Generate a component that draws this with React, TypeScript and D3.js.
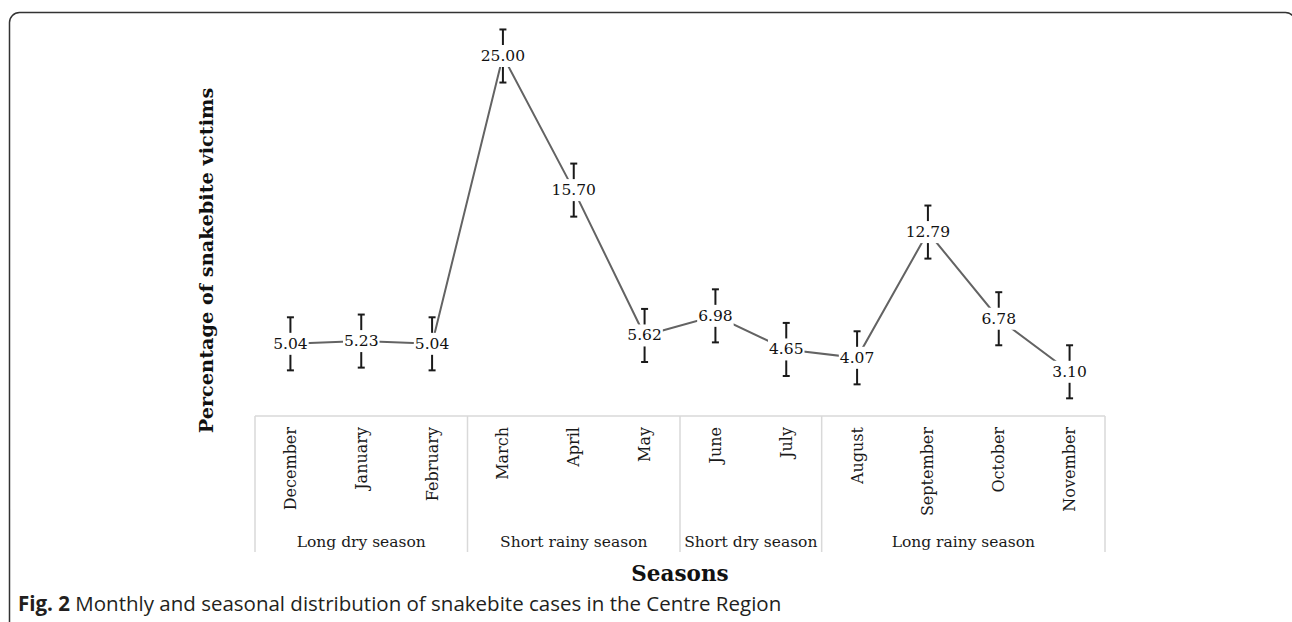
import React from "react";
import * as d3 from "d3";

const months = [
  "December", "January", "February", "March", "April", "May",
  "June", "July", "August", "September", "October", "November",
];
const values = [5.04, 5.23, 5.04, 25.0, 15.7, 5.62, 6.98, 4.65, 4.07, 12.79, 6.78, 3.1];
const errors = [1.84, 1.84, 1.84, 1.84, 1.84, 1.84, 1.84, 1.84, 1.84, 1.84, 1.84, 1.84];
const seasons = ["Long dry season", "Short rainy season", "Short dry season", "Long rainy season"];
const seasonSpans = [3, 3, 2, 4];
const yTitle = "Percentage of snakebite victims";
const xTitle = "Seasons";
const captionBold = "Fig. 2";
const captionText = " Monthly and seasonal distribution of snakebite cases in the Centre Region";

const SERIF = "'DejaVu Serif', serif";

function labelWidth(s: string, size: number) {
  let w = 0;
  for (const c of s) w += c === "." ? 0.318 : 0.636;
  return w * size;
}

export default function App() {
  const W = 1292;
  const H = 622;
  const x = d3.scaleBand<string>().domain(months).range([255, 1105]);
  const y = d3.scaleLinear().domain([0, 25]).range([416.5, 56]);
  const cx = (m: string) => (x(m) as number) + x.bandwidth() / 2;

  const line = d3
    .line<number>()
    .x((_, i) => cx(months[i]))
    .y((d) => y(d));

  const bounds: number[] = [0];
  seasonSpans.forEach((s) => bounds.push(bounds[bounds.length - 1] + s));
  const boundX = (k: number) => 255 + k * x.bandwidth();

  const lblSize = 15.5;

  return (
    <svg
      width={W}
      height={H}
      style={{ position: "absolute", left: 0, top: 0, display: "block", background: "#fff" }}
    >
      <rect x={9.5} y={12.5} width={1286} height={700} rx={10} ry={10} fill="none" stroke="#333" strokeWidth={1.5} />

      {/* category box */}
      <line x1={255} x2={1105} y1={416} y2={416} stroke="#d9d9d9" strokeWidth={1.5} />
      {bounds.map((b, i) => (
        <line key={"b" + i} x1={boundX(b)} x2={boundX(b)} y1={416} y2={552} stroke="#d9d9d9" strokeWidth={1.5} />
      ))}

      {months.map((m) => (
        <text
          key={m}
          transform={`translate(${cx(m)},427) rotate(-90)`}
          textAnchor="end"
          dominantBaseline="central"
          fontFamily={SERIF}
          fontSize={16}
          fill="#1a1a1a"
        >
          {m}
        </text>
      ))}

      {seasons.map((s, i) => (
        <text
          key={s}
          x={(boundX(bounds[i]) + boundX(bounds[i + 1])) / 2}
          y={547}
          textAnchor="middle"
          fontFamily={SERIF}
          fontSize={15.5}
          fill="#1a1a1a"
        >
          {s}
        </text>
      ))}

      {/* line */}
      <path d={line(values) as string} fill="none" stroke="#636363" strokeWidth={2} />

      {/* error bars */}
      {values.map((v, i) => {
        const X = cx(months[i]);
        const y1 = y(v + errors[i]);
        const y2 = y(v - errors[i]);
        return (
          <g key={"e" + i} stroke="#1a1a1a" strokeWidth={2}>
            <line x1={X} x2={X} y1={y1} y2={y2} />
            <line x1={X - 3.5} x2={X + 3.5} y1={y1} y2={y1} />
            <line x1={X - 3.5} x2={X + 3.5} y1={y2} y2={y2} />
          </g>
        );
      })}

      {/* data labels */}
      {values.map((v, i) => {
        const X = cx(months[i]);
        const Y = y(v);
        const t = v.toFixed(2);
        const w = labelWidth(t, lblSize);
        return (
          <g key={"l" + i}>
            <rect x={X - w / 2 - 1} y={Y - 11} width={w + 2} height={22} fill="#fff" />
            <text
              x={X}
              y={Y}
              textAnchor="middle"
              dominantBaseline="central"
              fontFamily={SERIF}
              fontSize={lblSize}
              fill="#111"
            >
              {t}
            </text>
          </g>
        );
      })}

      <text
        transform="translate(213,260.5) rotate(-90)"
        textAnchor="middle"
        fontFamily={SERIF}
        fontWeight="bold"
        fontSize={19.3}
        fill="#111"
      >
        {yTitle}
      </text>

      <text x={680} y={581} textAnchor="middle" fontFamily={SERIF} fontWeight="bold" fontSize={21.5} fill="#111">
        {xTitle}
      </text>

      <text x={18} y={611} fontFamily="'Open Sans', sans-serif" fontSize={20.5} fill="#231f20">
        <tspan fontWeight="bold">{captionBold}</tspan>
        <tspan>{captionText}</tspan>
      </text>
    </svg>
  );
}
